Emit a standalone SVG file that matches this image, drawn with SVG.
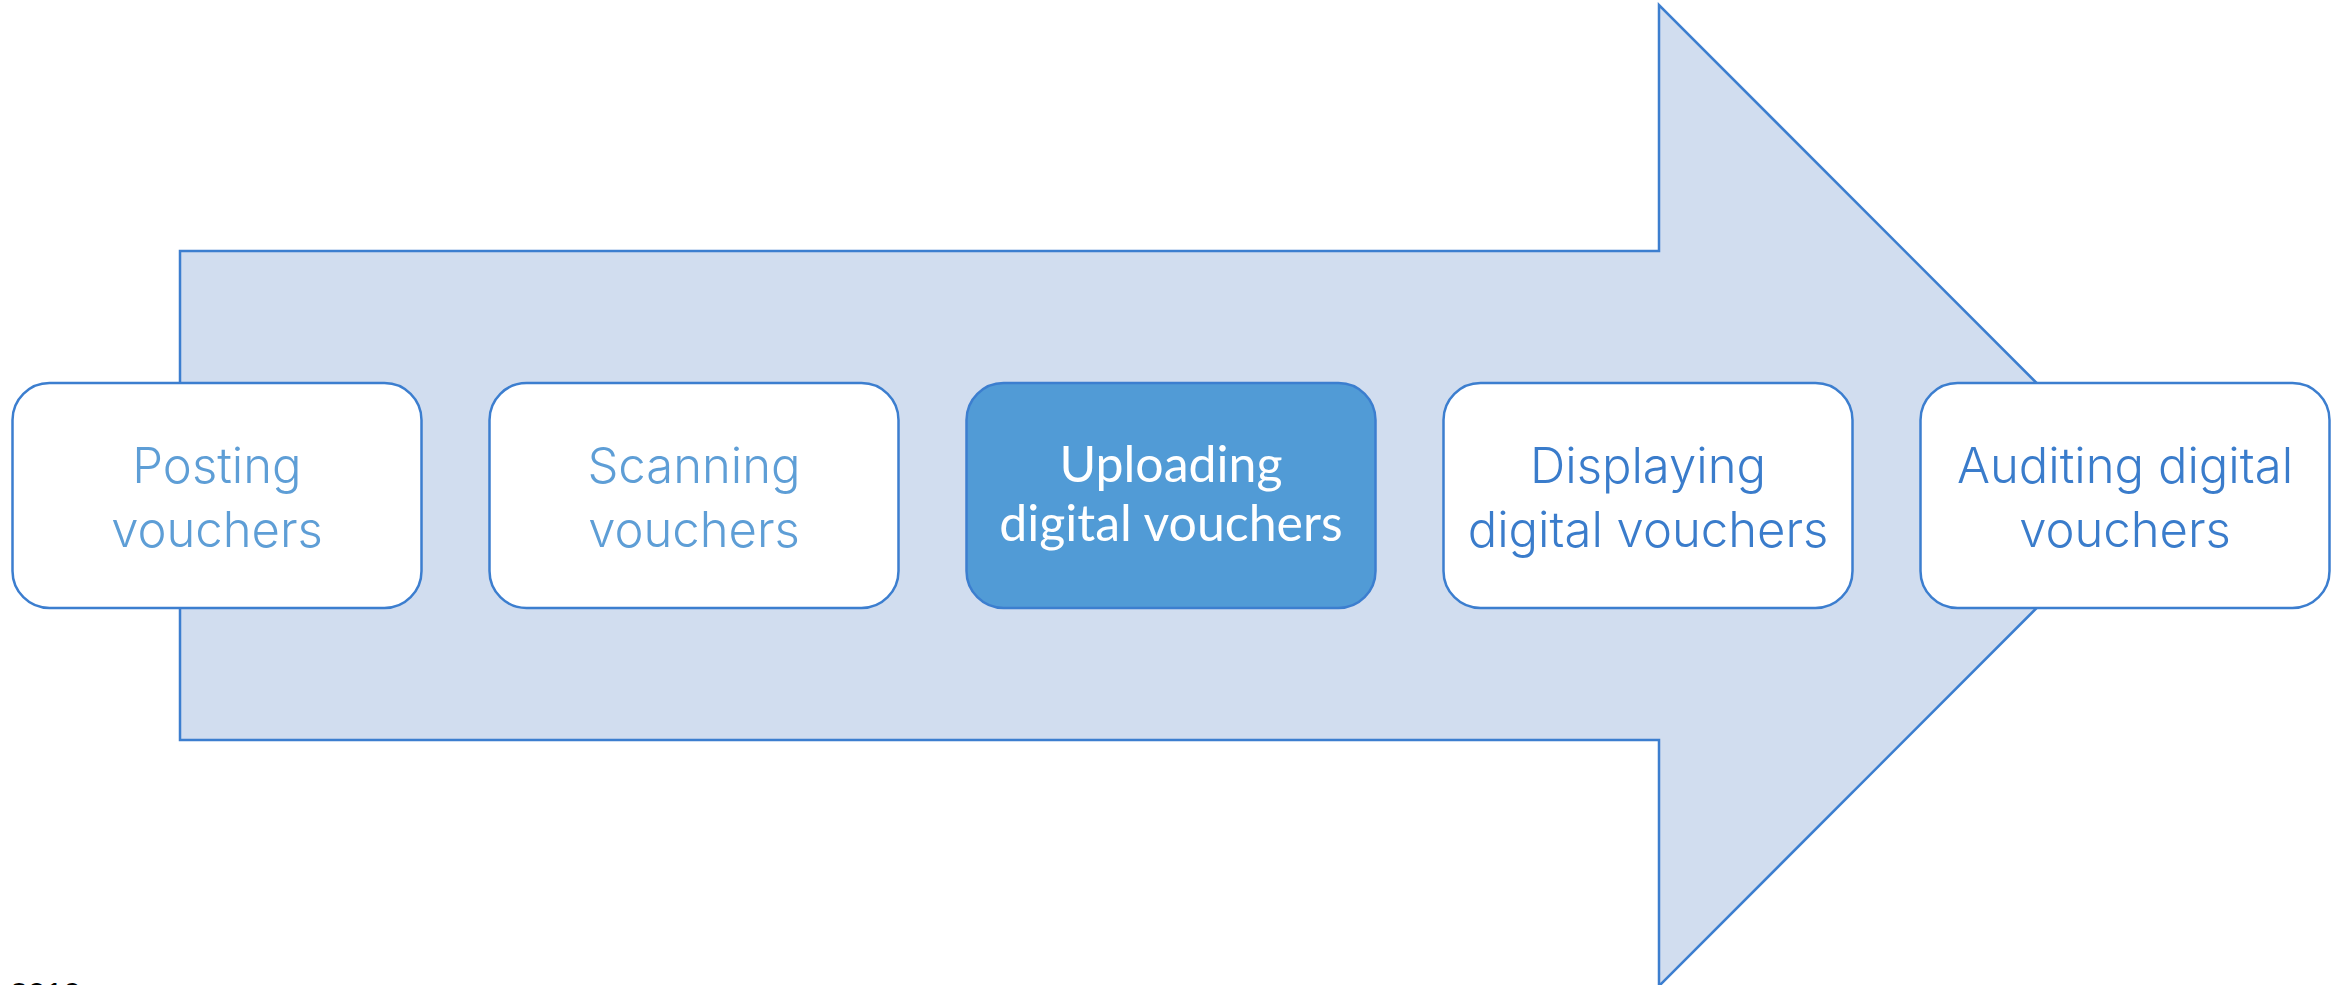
<svg xmlns="http://www.w3.org/2000/svg" width="2346" height="985" viewBox="0 0 2346 985">
<style>
.box{fill:#ffffff;stroke:#3C7ECF;stroke-width:2.5}
.hl{fill:#519BD6;stroke:#3C7ECF;stroke-width:2.5}
.t{font-family:Inter,"Open Sans",sans-serif;font-weight:300;font-size:49px;text-anchor:middle}
.light{fill:#5E9ED6}
.dark{fill:#3A7CCB}
.white{fill:#ffffff;font-family:Lato,"Open Sans",sans-serif;font-weight:400;font-size:50px}
</style>
<rect width="2346" height="985" fill="#ffffff"/>
<g id="arrow">
<path d="M180,251 H1659 V5 L2149,495.5 L1659,986 V740 H180 Z" fill="#D1DDEF" stroke="#3C7ECF" stroke-width="2.5"/>
</g>
<g id="connectors"></g>
<g id="node1">
<rect class="box" x="12.5" y="383" width="409" height="225" rx="37"/>
<text class="t light" x="217" y="483">Posting<tspan x="217" dy="64">vouchers</tspan></text>
</g>
<g id="node2">
<rect class="box" x="489.5" y="383" width="409" height="225" rx="37"/>
<text class="t light" x="694" y="483">Scanning<tspan x="694" dy="64">vouchers</tspan></text>
</g>
<g id="node3">
<rect class="hl" x="966.5" y="383" width="409" height="225" rx="37"/>
<text class="t white" x="1171" y="482">Uploading<tspan x="1171" dy="59">digital vouchers</tspan></text>
</g>
<g id="node4">
<rect class="box" x="1443.5" y="383" width="409" height="225" rx="37"/>
<text class="t dark" x="1648" y="483">Displaying<tspan x="1648" dy="64">digital vouchers</tspan></text>
</g>
<g id="node5">
<rect class="box" x="1920.5" y="383" width="409" height="225" rx="37"/>
<text class="t dark" x="2125" y="483">Auditing digital<tspan x="2125" dy="64">vouchers</tspan></text>
</g>
<text x="10" y="1005" font-family="Liberation Sans, Arial, sans-serif" font-size="32" fill="#000000">2019</text>
</svg>
